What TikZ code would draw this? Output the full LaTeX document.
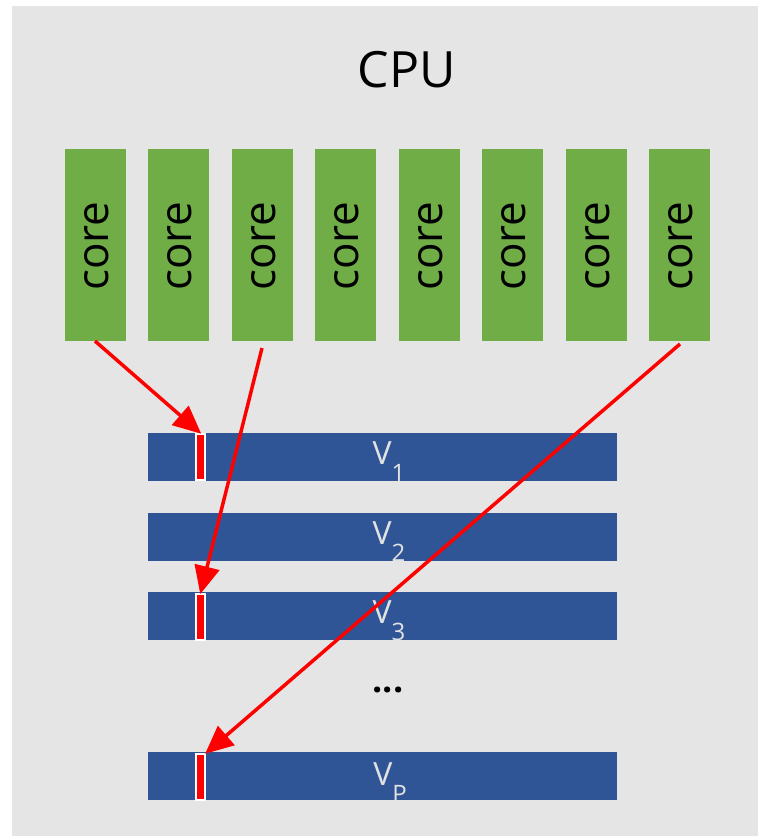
\documentclass[tikz,border=0pt]{standalone}
\usepackage{fontspec}
\setmainfont{Open Sans}
\usetikzlibrary{arrows.meta}
\definecolor{bggrey}{HTML}{E5E5E5}
\definecolor{coregreen}{HTML}{70AD47}
\definecolor{barblue}{HTML}{2F5597}
\definecolor{vtext}{HTML}{E2E2E2}
\tikzset{
  corebox/.style={fill=coregreen, minimum width=61pt, minimum height=192pt, inner sep=0pt},
  vbar/.style={fill=barblue, minimum width=469pt, minimum height=48pt, inner sep=0pt},
  marker/.style={fill=red, draw=white, line width=1.8pt, minimum width=9pt, minimum height=46pt, inner sep=0pt},
  vlabel/.style={text=vtext, font=\fontsize{32}{32}\selectfont, inner sep=0pt, anchor=base},
  redarrow/.style={draw=red, line width=3.5pt, -{Triangle[length=28pt,width=25pt]}, shorten >=-1pt},
}
\newcommand{\vsub}[1]{{\fontsize{24}{24}\selectfont\raisebox{-17pt}{#1}}}
\begin{document}
\begin{tikzpicture}[x=1pt,y=-1pt]
\useasboundingbox (0,0) rectangle (758,836);
\fill[bggrey] (12,6) rectangle (758,836);
\node[font=\fontsize{50}{50}\selectfont, anchor=base, inner sep=0pt] (cpu) at (407,87) {CPU};
\foreach \i/\x in {1/95.5,2/178.5,3/262.5,4/345.5,5/429.5,6/512.5,7/596.5,8/679.5}{
  \node[corebox] (c\i) at (\x,245) {};
  \node[rotate=90, font=\fontsize{44}{44}\selectfont, inner sep=0pt] (t\i) at (\x+1,246) {core};
}
\node[vbar] (v1) at (382.5,457) {};
\node[vbar] (v2) at (382.5,537) {};
\node[vbar] (v3) at (382.5,616) {};
\node[vbar] (vp) at (382.5,776) {};
\node[vlabel] (l1) at (389,464) {V\vsub{1}};
\node[vlabel] (l2) at (389,544) {V\vsub{2}};
\node[vlabel] (l3) at (389,623) {V\vsub{3}};
\node[vlabel] (lp) at (390,785) {V\vsub{P}};
\node[font=\fontsize{36}{36}\selectfont\bfseries, inner sep=0pt] (dots) at (388,690) {...};
\node[marker] (m1) at (200.5,457) {};
\node[marker] (m3) at (200.5,617) {};
\node[marker] (mp) at (200.5,777) {};
\coordinate (s1) at (95,341);
\coordinate (s3) at (262,348);
\coordinate (s8) at (680,344);
\draw[redarrow] (s1) -- (m1.north);
\draw[redarrow] (s3) -- (m3.north);
\draw[redarrow] (s8) -- (mp.north east);
\end{tikzpicture}
\end{document}
